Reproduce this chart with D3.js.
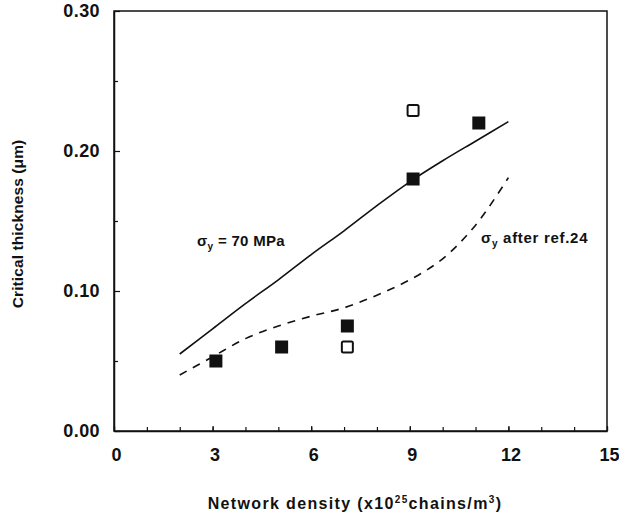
<!DOCTYPE html>
<html><head><meta charset="utf-8">
<script src="https://cdn.jsdelivr.net/npm/d3@7"></script>
<style>
html,body{margin:0;padding:0;background:#fff;}
text{font-family:"Liberation Sans",Arial,Helvetica,sans-serif;fill:#111;}
</style></head>
<body>
<svg id="chart" width="619" height="517"></svg>
<script>
// Data
const xTicks = [0, 3, 6, 9, 12, 15];
const yTicks = [0.00, 0.10, 0.20, 0.30];
const filledX = [3.1, 5.1, 7.1, 9.1, 11.1];
const filledY = [0.050, 0.060, 0.075, 0.180, 0.220];
const openX = [7.1, 9.1];
const openY = [0.060, 0.229];
const solidX = [2, 3, 4, 5, 6, 7, 8, 9, 10, 11, 12];
const solidY = [0.055, 0.073, 0.091, 0.108, 0.126, 0.143, 0.161, 0.178, 0.193, 0.207, 0.221];
const dashX = [2, 3, 4, 5, 6, 7, 8, 9, 10, 11, 12];
const dashY = [0.040, 0.053, 0.066, 0.075, 0.082, 0.088, 0.097, 0.108, 0.123, 0.147, 0.181];

const svg = d3.select("#chart");
const x = d3.scaleLinear().domain([0, 15]).range([114, 607]);
const y = d3.scaleLinear().domain([0, 0.30]).range([431, 11]);

// frame
svg.append("rect").attr("x", x(0)).attr("y", y(0.30))
  .attr("width", x(15) - x(0)).attr("height", y(0) - y(0.30))
  .attr("fill", "none").attr("stroke", "#111").attr("stroke-width", 1.5);

// x axis
const xAxis = d3.axisBottom(x).tickValues(xTicks).tickSizeInner(-5).tickSizeOuter(0)
  .tickFormat(d3.format("d")).tickPadding(17);
const gx = svg.append("g").attr("transform", `translate(0,${y(0)})`).call(xAxis);
gx.select(".domain").attr("stroke-width", 1.5).attr("stroke", "#111");
gx.selectAll("text").attr("font-size", 18).attr("font-weight", "bold").attr("dx", 2);
const xMinor = d3.axisBottom(x).ticks(15).tickSize(-4).tickFormat("");
const gxm = svg.append("g").attr("transform", `translate(0,${y(0)})`).call(xMinor);
gxm.select(".domain").remove();

// y axis
const yAxis = d3.axisLeft(y).tickValues(yTicks).tickSizeInner(-6).tickSizeOuter(0)
  .tickFormat(d3.format(".2f")).tickPadding(14);
const gy = svg.append("g").attr("transform", `translate(${x(0)},0)`).call(yAxis);
gy.select(".domain").attr("stroke-width", 1.5).attr("stroke", "#111");
gy.selectAll("text").attr("font-size", 18).attr("font-weight", "bold").attr("letter-spacing", 0.4);
const yMinor = d3.axisLeft(y).tickValues([0.05, 0.15, 0.25]).tickSize(-4).tickFormat("");
const gym = svg.append("g").attr("transform", `translate(${x(0)},0)`).call(yMinor);
gym.select(".domain").remove();
svg.selectAll(".tick line").attr("stroke", "#111").attr("stroke-width", 1.2);

// axis titles
const xt = svg.append("text").attr("x", 355).attr("y", 509).attr("text-anchor", "middle")
  .attr("font-size", 16).attr("font-weight", "bold").attr("letter-spacing", 1.35);
xt.append("tspan").text("Network density (x10");
xt.append("tspan").attr("font-size", 10).attr("dy", -6).text("25");
xt.append("tspan").attr("dy", 6).text("chains/m");
xt.append("tspan").attr("font-size", 10).attr("dy", -6).text("3");
xt.append("tspan").attr("dy", 6).text(")");

svg.append("text").attr("transform", "translate(23,224) rotate(-90)")
  .attr("text-anchor", "middle").attr("font-size", 15.5).attr("font-weight", "bold")
  .attr("letter-spacing", 0.1).text("Critical thickness (μm)");

// curves
const line = d3.line().x(d => x(d[0])).y(d => y(d[1])).curve(d3.curveCatmullRom);
svg.append("path").datum(d3.zip(solidX, solidY)).attr("d", line)
  .attr("fill", "none").attr("stroke", "#111").attr("stroke-width", 1.6);
svg.append("path").datum(d3.zip(dashX, dashY)).attr("d", line)
  .attr("fill", "none").attr("stroke", "#111").attr("stroke-width", 1.6)
  .attr("stroke-dasharray", "8,7");

// markers
const s = 13;
svg.append("g").selectAll("rect").data(d3.zip(filledX, filledY)).join("rect")
  .attr("x", d => x(d[0]) - s / 2).attr("y", d => y(d[1]) - s / 2)
  .attr("width", s).attr("height", s).attr("fill", "#111");
svg.append("g").selectAll("rect").data(d3.zip(openX, openY)).join("rect")
  .attr("x", d => x(d[0]) - s / 2 + 1).attr("y", d => y(d[1]) - s / 2 + 1)
  .attr("width", s - 2).attr("height", s - 2).attr("rx", 1.5)
  .attr("fill", "#fff").attr("stroke", "#111").attr("stroke-width", 2);

// annotations
const a1 = svg.append("text").attr("x", 197).attr("y", 246)
  .attr("font-size", 15).attr("font-weight", "bold").attr("letter-spacing", 0.3);
a1.append("tspan").text("σ");
a1.append("tspan").attr("font-size", 10).attr("dy", 4).text("y");
a1.append("tspan").attr("dy", -4).text(" = 70 MPa");

const a2 = svg.append("text").attr("x", 481).attr("y", 243)
  .attr("font-size", 15).attr("font-weight", "bold").attr("letter-spacing", 0.7);
a2.append("tspan").text("σ");
a2.append("tspan").attr("font-size", 10).attr("dy", 4).text("y");
a2.append("tspan").attr("dy", -4).text(" after ref.24");
</script>
</body></html>
